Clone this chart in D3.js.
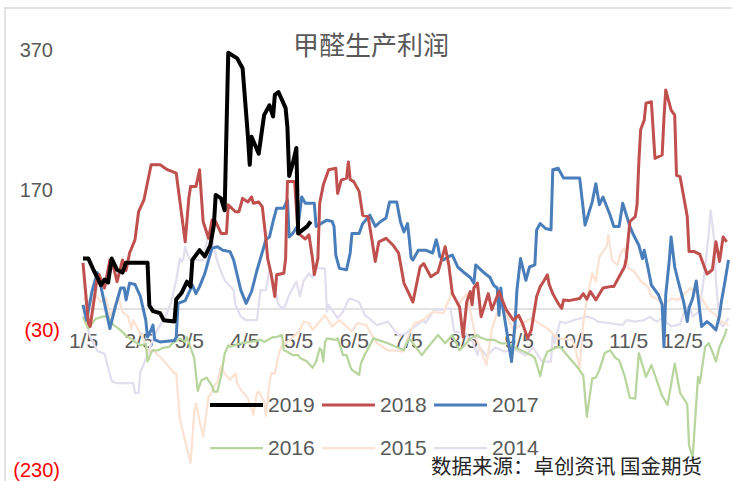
<!DOCTYPE html>
<html>
<head>
<meta charset="utf-8">
<script src="https://cdn.jsdelivr.net/npm/d3@7/dist/d3.min.js"></script>
<style>
  body { margin: 0; background: #fff; }
  text { font-family: "Liberation Sans", Arial, "Noto Sans CJK SC", sans-serif; }
</style>
</head>
<body>
<div id="chart"></div>
<script>
// data: [day of year, profit]
var title = "甲醛生产利润";
var source = "数据来源：卓创资讯 国金期货";
var monthTicks = [5, 36, 64, 95, 125, 156, 186, 217, 248, 278, 309, 339];
var monthLabels = ["1/5", "2/5", "3/5", "4/5", "5/5", "6/5", "7/5", "8/5", "9/5", "10/5", "11/5", "12/5"];
var yTicks = [370, 170, -30, -230];

var s2019 = [[5,72],[8,72],[11,55],[13,45],[15,34],[17,42],[19,38],[21,72],[24,56],[27,52],[29,66],[37,66],[41,66],[42,5],[44,-3],[48,-6],[50,-16],[56,-18],[57,14],[60,23],[63,39],[65,32],[66,70],[70,84],[73,75],[76,91],[78,120],[79,163],[82,158],[84,141],[86,366],[91,358],[94,344],[97,246],[98,206],[99,246],[103,222],[106,277],[109,291],[111,275],[112,306],[114,310],[118,287],[119,260],[120,190],[122,208],[124,230],[125,108],[127,112],[130,118],[132,125]];

var s2018 = [[5,66],[8,-20],[9,-25],[11,10],[13,46],[14,49],[17,30],[20,70],[22,60],[24,39],[27,70],[29,55],[31,80],[34,99],[36,139],[39,156],[43,206],[48,206],[52,199],[57,194],[62,96],[64,158],[65,175],[68,175],[70,199],[72,125],[75,101],[77,127],[79,125],[82,108],[85,108],[86,149],[90,139],[92,139],[94,158],[97,153],[99,160],[100,151],[103,153],[105,146],[107,101],[108,72],[110,49],[112,18],[113,49],[117,51],[118,72],[119,182],[123,182],[125,108],[129,100],[131,106],[133,72],[134,49],[136,72],[137,151],[139,177],[142,199],[146,201],[147,165],[149,184],[152,187],[153,210],[154,185],[156,182],[159,168],[161,134],[164,132],[166,101],[168,68],[170,96],[174,101],[178,91],[181,80],[184,37],[189,10],[193,60],[195,65],[199,46],[203,53],[207,89],[209,63],[211,22],[215,3],[217,-40],[219,10],[221,25],[222,6],[223,30],[225,37],[227,-11],[231,22],[233,-1],[237,25],[241,-1],[245,-16],[248,-9],[250,-20],[253,-42],[255,-30],[258,18],[260,32],[262,40],[264,49],[265,35],[267,22],[270,8],[272,1],[273,13],[276,12],[282,15],[284,22],[286,14],[288,25],[291,13],[295,30],[299,32],[301,32],[304,46],[307,60],[308,72],[310,125],[313,132],[314,149],[315,210],[316,256],[318,270],[319,294],[322,296],[324,215],[328,220],[329,272],[330,313],[333,284],[335,277],[336,191],[338,189],[342,132],[343,82],[346,82],[349,78],[351,64],[353,50],[356,56],[358,96],[360,68],[362,103],[364,96]];

var s2017 = [[5,6],[7,-16],[10,25],[13,52],[15,32],[20,-28],[23,3],[26,30],[28,30],[29,13],[31,37],[34,35],[37,18],[40,-16],[41,-40],[43,-30],[44,-23],[45,-44],[48,-47],[56,-45],[57,-40],[58,8],[62,12],[66,34],[68,22],[70,32],[73,51],[75,70],[77,87],[80,89],[83,84],[87,82],[89,70],[93,27],[96,8],[99,25],[102,55],[106,90],[107,99],[109,103],[111,125],[113,144],[117,144],[119,156],[120,103],[122,108],[125,120],[127,160],[129,151],[134,151],[135,118],[141,127],[144,125],[145,118],[146,77],[148,58],[152,56],[154,80],[155,108],[159,108],[161,122],[165,134],[168,118],[171,125],[174,130],[176,153],[180,153],[182,125],[184,110],[186,122],[187,99],[188,73],[189,70],[192,84],[196,84],[200,80],[202,99],[203,89],[204,75],[206,70],[209,75],[211,77],[214,60],[218,51],[221,45],[223,37],[224,63],[229,51],[232,45],[234,34],[236,30],[237,-9],[238,30],[239,5],[244,-75],[246,-20],[247,27],[249,72],[252,41],[254,60],[257,63],[258,113],[260,122],[263,115],[266,113],[267,199],[270,201],[273,187],[282,187],[285,120],[289,153],[291,179],[293,149],[295,160],[299,134],[301,118],[304,118],[306,151],[310,118],[312,106],[315,91],[317,72],[318,84],[320,60],[322,34],[326,20],[328,6],[329,-54],[330,20],[332,70],[333,103],[335,60],[337,39],[340,10],[342,-18],[343,1],[345,15],[347,40],[350,-25],[353,-18],[355,-22],[358,-30],[360,-9],[361,10],[363,39],[365,70]];

var s2016 = [[5,-11],[8,-28],[12,-14],[16,-11],[19,-11],[22,-23],[25,-28],[29,-38],[33,-45],[37,-52],[40,-50],[41,-75],[43,-62],[44,-59],[47,-59],[49,-56],[53,-54],[55,-49],[59,-42],[62,-47],[63,-40],[67,-70],[69,-117],[71,-102],[74,-98],[77,-110],[78,-118],[80,-118],[82,-96],[84,-64],[86,-52],[87,-54],[93,-49],[101,-46],[104,-44],[106,-47],[111,-40],[113,-40],[116,-37],[117,-59],[119,-61],[122,-66],[125,-66],[126,-70],[130,-75],[133,-84],[135,-75],[137,-56],[138,-59],[139,-75],[140,-47],[141,-42],[146,-44],[147,-42],[150,-66],[152,-66],[154,-82],[155,-87],[159,-94],[160,-78],[162,-66],[167,-42],[175,-49],[184,-59],[185,-51],[187,-42],[194,-66],[196,-59],[203,-37],[207,-49],[211,-37],[215,-59],[217,-54],[221,-42],[225,-37],[226,-40],[230,-44],[234,-44],[238,-49],[241,-49],[251,-61],[255,-66],[257,-70],[260,-96],[262,-73],[264,-61],[268,-56],[271,-54],[281,-84],[284,-95],[286,-154],[289,-99],[291,-98],[293,-87],[296,-63],[299,-59],[302,-70],[304,-73],[307,-95],[310,-127],[313,-128],[315,-63],[319,-97],[322,-80],[328,-124],[331,-137],[335,-78],[338,-120],[342,-136],[343,-195],[345,-212],[348,-97],[349,-106],[352,-54],[354,-49],[356,-61],[358,-75],[360,-54],[363,-37],[364,-28]];

var s2015 = [[5,15],[9,8],[12,20],[15,10],[18,15],[20,-11],[23,6],[25,15],[27,-4],[30,-10],[32,-28],[33,-16],[36,-30],[40,-49],[41,-61],[44,-59],[48,-68],[52,-80],[56,-92],[57,-92],[59,-156],[60,-168],[62,-189],[65,-220],[67,-149],[68,-135],[70,-160],[72,-182],[75,-125],[76,-123],[78,-111],[80,-104],[82,-82],[84,-92],[87,-101],[90,-92],[91,-106],[93,-115],[97,-128],[100,-151],[102,-120],[103,-118],[106,-132],[107,-153],[109,-106],[110,-92],[112,-92],[114,-66],[116,-52],[120,-45],[126,-30],[128,-18],[131,-20],[133,-30],[137,-18],[140,-9],[144,-25],[148,-16],[155,-32],[158,-20],[163,-23],[166,-37],[169,-49],[175,-59],[180,-59],[183,-61],[185,-51],[187,-35],[190,-20],[195,-15],[200,-4],[206,-6],[211,25],[214,5],[219,22],[224,-40],[228,-66],[230,-80],[233,-30],[236,-4],[238,10],[245,-30],[252,-18],[255,-13],[264,-28],[270,-42],[278,-44],[280,-61],[282,-85],[284,-20],[286,13],[289,51],[291,39],[293,75],[297,89],[298,106],[300,70],[303,63],[305,80],[307,87],[309,58],[312,55],[316,40],[320,32],[322,18],[325,15],[329,6],[333,15],[337,13],[344,30],[350,15],[354,-1],[358,-9],[361,-18],[365,-23]];

var s2014 = [[5,-10],[7,-20],[9,-40],[13,-60],[17,-64],[21,-103],[24,-106],[33,-106],[34,-120],[36,-120],[37,-90],[39,-78],[41,-64],[45,-37],[48,-23],[51,-11],[54,8],[57,41],[59,72],[60,67],[61,72],[62,89],[63,80],[65,70],[72,70],[75,108],[76,110],[78,87],[80,67],[81,60],[84,41],[89,27],[90,6],[93,-11],[96,-16],[102,-16],[104,27],[107,27],[109,57],[112,30],[114,6],[117,0],[120,20],[122,30],[124,39],[126,18],[128,40],[131,51],[133,45],[135,65],[136,58],[140,58],[141,-4],[142,6],[147,-13],[150,-4],[153,13],[154,15],[159,10],[162,-8],[169,-23],[175,-18],[181,-38],[185,-35],[190,-25],[195,-16],[196,-20],[201,-1],[205,-1],[210,1],[212,-32],[218,-35],[222,-45],[225,-66],[226,-54],[230,-67],[235,-55],[240,-61],[246,-58],[252,-66],[256,-55],[261,-75],[266,-75],[267,-35],[268,-49],[271,-18],[274,-20],[280,-15],[286,-11],[290,-14],[292,-18],[298,-20],[306,-23],[308,-16],[313,-18],[318,-16],[321,-11],[325,-18],[328,-13],[333,-25],[338,-22],[340,-6],[343,6],[345,-11],[348,-5],[350,20],[352,60],[354,110],[355,141],[357,100],[358,40],[360,-20],[362,-25],[365,-13]];

var width = 732, height = 481;

// drawn bottom to top
var series = [
  {name: "2014", data: s2014, color: "#e2deee", w: 2.25},
  {name: "2015", data: s2015, color: "#fbe2d2", w: 2.25},
  {name: "2016", data: s2016, color: "#b7d59c", w: 2.25},
  {name: "2017", data: s2017, color: "#4a7ebb", w: 3},
  {name: "2018", data: s2018, color: "#c0504d", w: 3},
  {name: "2019", data: s2019, color: "#000000", w: 4}
];
var legendOrder = ["2019", "2018", "2017", "2016", "2015", "2014"];

function day(n) { return new Date(2019, 0, n); }

var svg = d3.select("#chart").append("svg")
    .attr("width", width)
    .attr("height", height);

svg.append("rect")
    .attr("x", 5).attr("y", 8)
    .attr("width", width).attr("height", height)
    .attr("fill", "#fff")
    .attr("stroke", "#d9d9d9")
    .attr("stroke-width", 1.5);

var x = d3.scaleTime()
    .domain([day(5), day(365)])
    .range([83, 728.5]);

var y = d3.scaleLinear()
    .domain([-230, 370])
    .range([470, 50]);

// zero axis line
svg.append("line")
    .attr("x1", 83).attr("x2", 731)
    .attr("y1", y(0)).attr("y2", y(0))
    .attr("stroke", "#d9d9d9")
    .attr("stroke-width", 1.5);

var xAxis = svg.append("g")
    .attr("transform", "translate(0," + y(0) + ")")
    .call(d3.axisBottom(x)
      .tickValues(monthTicks.map(day))
      .tickFormat(function(d, i) { return monthLabels[i]; })
      .tickSize(0)
      .tickPadding(24));
xAxis.select(".domain").remove();
xAxis.selectAll("text")
    .attr("fill", "#595959")
    .style("font-size", "21px");

var yAxis = svg.append("g")
    .attr("transform", "translate(62,0)")
    .call(d3.axisLeft(y)
      .tickValues(yTicks)
      .tickSize(0)
      .tickPadding(2)
      .tickFormat(function(d) { return d < 0 ? "(" + Math.abs(d) + ")" : d; }));
yAxis.select(".domain").remove();
yAxis.selectAll("text")
    .style("font-size", "20px")
    .attr("dx", function(d) { return d < 0 ? 0 : -7; })
    .attr("fill", function(d) { return d < 0 ? "#ff0000" : "#595959"; });

var line = d3.line()
    .x(function(d) { return x(day(d[0])); })
    .y(function(d) { return y(d[1]); });

svg.selectAll(".series")
  .data(series)
  .enter().append("path")
    .attr("class", "series")
    .attr("d", function(d) { return line(d.data); })
    .attr("fill", "none")
    .attr("stroke", function(d) { return d.color; })
    .attr("stroke-width", function(d) { return d.w; })
    .attr("stroke-linejoin", "round");

svg.append("text")
    .attr("x", 371).attr("y", 46)
    .attr("dy", "0.35em")
    .attr("text-anchor", "middle")
    .attr("fill", "#595959")
    .style("font-family", "'Noto Sans CJK SC', sans-serif")
    .style("font-size", "26px")
    .text(title);

var byName = {};
series.forEach(function(s) { byName[s.name] = s; });

var legend = svg.selectAll(".legend")
  .data(legendOrder.map(function(n) { return byName[n]; }))
  .enter().append("g")
    .attr("class", "legend")
    .attr("transform", function(d, i) {
      return "translate(" + (210 + (i % 3) * 112) + "," + (405 + Math.floor(i / 3) * 43) + ")";
    });

legend.append("line")
    .attr("x1", 0).attr("x2", 53)
    .attr("stroke", function(d) { return d.color; })
    .attr("stroke-width", function(d) { return d.w; });

legend.append("text")
    .attr("x", 58)
    .attr("dy", "0.35em")
    .attr("fill", "#595959")
    .style("font-size", "21px")
    .text(function(d) { return d.name; });

svg.append("text")
    .attr("x", 431).attr("y", 467)
    .attr("dy", "0.35em")
    .attr("fill", "#262626")
    .style("font-family", "'Noto Sans CJK SC', sans-serif")
    .style("font-size", "20.5px")
    .text(source);
</script>
</body>
</html>
